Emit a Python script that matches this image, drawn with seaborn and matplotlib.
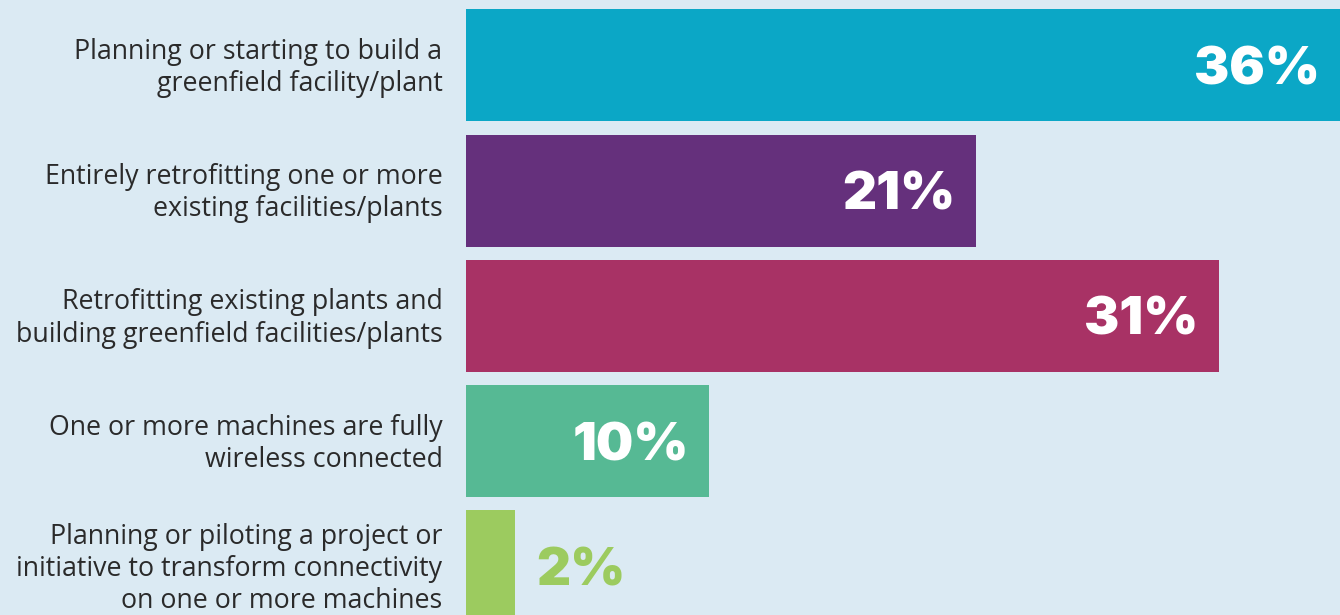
import matplotlib
matplotlib.use("Agg")
import matplotlib.pyplot as plt
import matplotlib.transforms as mtransforms
import seaborn as sns
import pandas as pd

categories = [
    "Planning or starting to build a\ngreenfield facility/plant",
    "Entirely retrofitting one or more\nexisting facilities/plants",
    "Retrofitting existing plants and\nbuilding greenfield facilities/plants",
    "One or more machines are fully\nwireless connected",
    "Planning or piloting a project or\ninitiative to transform connectivity\non one or more machines",
]
values = [36, 21, 31, 10, 2]
value_labels = ["36%", "21%", "31%", "10%", "2%"]
colors = ["#0ba7c6", "#65307c", "#a83265", "#56b994", "#9ccb5f"]

bg = "#dbeaf3"
sns.set_theme(style="white")
plt.rcParams["font.family"] = ["Open Sans", "DejaVu Sans"]

df = pd.DataFrame({"category": categories, "value": values})

fig = plt.figure(figsize=(13.4, 6.15), dpi=100, facecolor=bg)
ax = fig.add_axes([466 / 1340, 0, 1 - 466 / 1340, 1])
ax.set_facecolor(bg)

sns.barplot(data=df, x="value", y="category", hue="category", palette=colors,
            orient="h", width=0.895, legend=False, ax=ax, saturation=1,
            linewidth=0)

ax.set_xlim(0, 36)
ax.set_ylim(4.39, -0.523)
ax.set_xlabel("")
ax.set_ylabel("")
ax.set_xticks([])
for s in ax.spines.values():
    s.set_visible(False)
ax.tick_params(axis="y", length=0, pad=17)
shift = mtransforms.ScaledTranslation(0, 3 / 100, fig.dpi_scale_trans)
for t in ax.get_yticklabels():
    t.set_fontsize(19.3)
    t.set_color("#2a2a2a")
    t.set_linespacing(1.2)
    t.set_transform(t.get_transform() + shift)

for i, (v, lab) in enumerate(zip(values, value_labels)):
    if v >= 5:
        ax.annotate(lab, xy=(v, i), xytext=(-20, 0), textcoords="offset pixels",
                    ha="right", va="center_baseline", color="white",
                    fontsize=38, fontweight="black", family=["Inter", "DejaVu Sans"])
    else:
        ax.annotate(lab, xy=(v, i), xytext=(22, 0), textcoords="offset pixels",
                    ha="left", va="center_baseline", color=colors[i],
                    fontsize=38, fontweight="black", family=["Inter", "DejaVu Sans"])

fig.savefig("out.png", dpi=100, facecolor=bg)
